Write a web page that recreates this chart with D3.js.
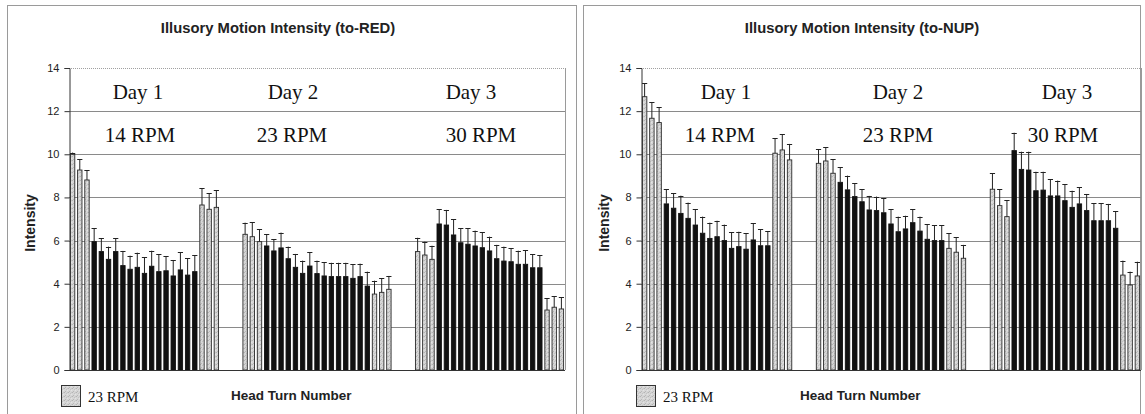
<!DOCTYPE html>
<html>
<head>
<meta charset="utf-8">
<script src="https://cdn.jsdelivr.net/npm/d3@7/dist/d3.min.js"></script>
<style>
  html, body { margin: 0; padding: 0; background: #fff; }
  svg { display: block; }
  .tick text { font-family: "Liberation Sans", Arial, sans-serif; font-size: 11px; fill: #222; }
</style>
</head>
<body>
<script>
// ---- data -------------------------------------------------------------
const days = ["Day 1", "Day 2", "Day 3"];
const speeds = ["14 RPM", "23 RPM", "30 RPM"];
const legendLabel = "23 RPM";
const yTicks = [0, 2, 4, 6, 8, 10, 12, 14];
// head turns per session: 3 baseline (23 RPM), 15 test, 3 baseline (23 RPM)
const baselineBefore = 3, testTurns = 15, baselineAfter = 3;

// to-RED: mean intensity per head turn, one row per day
const redValues = [
  [10.0, 9.27, 8.81, 5.95, 5.49, 5.13, 5.49, 4.84, 4.67, 4.76, 4.48, 4.81, 4.56, 4.60, 4.36, 4.64, 4.40, 4.56, 7.65, 7.45, 7.54],
  [6.29, 6.18, 5.95, 5.75, 5.52, 5.66, 5.16, 4.76, 4.48, 4.82, 4.47, 4.36, 4.33, 4.33, 4.33, 4.25, 4.33, 3.89, 3.52, 3.60, 3.74],
  [5.49, 5.33, 5.13, 6.77, 6.72, 6.26, 5.90, 5.83, 5.75, 5.67, 5.52, 5.16, 5.05, 5.02, 4.90, 4.90, 4.74, 4.74, 2.78, 2.91, 2.83]
];
const redErrors = [
  [0.08, 0.51, 0.46, 0.62, 0.61, 0.59, 0.61, 0.68, 0.63, 0.68, 0.74, 0.72, 0.80, 0.67, 0.74, 0.83, 0.78, 0.77, 0.77, 0.74, 0.80],
  [0.54, 0.67, 0.57, 0.54, 0.55, 0.71, 0.56, 0.62, 0.59, 0.65, 0.60, 0.64, 0.64, 0.64, 0.64, 0.66, 0.60, 0.67, 0.62, 0.65, 0.62],
  [0.64, 0.62, 0.63, 0.69, 0.70, 0.74, 0.67, 0.74, 0.71, 0.71, 0.66, 0.64, 0.67, 0.62, 0.63, 0.66, 0.62, 0.59, 0.54, 0.52, 0.54]
];

// to-NUP: mean intensity per head turn, one row per day
const nupValues = [
  [12.67, 11.67, 11.47, 7.70, 7.50, 7.26, 7.03, 6.72, 6.34, 6.10, 6.18, 6.00, 5.64, 5.72, 5.60, 6.03, 5.76, 5.76, 10.05, 10.20, 9.74],
  [9.58, 9.69, 9.12, 8.70, 8.35, 8.04, 7.80, 7.42, 7.39, 7.29, 6.77, 6.41, 6.54, 6.83, 6.44, 6.06, 6.00, 6.00, 5.64, 5.46, 5.18],
  [8.38, 7.62, 7.11, 10.17, 9.30, 9.27, 8.31, 8.34, 8.07, 8.07, 7.85, 7.54, 7.70, 7.39, 6.92, 6.92, 6.92, 6.57, 4.40, 3.94, 4.36]
];
const nupErrors = [
  [0.62, 0.74, 0.71, 0.68, 0.69, 0.82, 0.73, 0.73, 0.77, 0.73, 0.74, 0.74, 0.74, 0.69, 0.74, 0.77, 0.76, 0.68, 0.69, 0.74, 0.74],
  [0.65, 0.63, 0.65, 0.70, 0.66, 0.62, 0.59, 0.65, 0.65, 0.67, 0.69, 0.70, 0.61, 0.63, 0.67, 0.69, 0.72, 0.72, 0.70, 0.69, 0.62],
  [0.74, 0.77, 0.77, 0.83, 0.82, 0.85, 0.88, 0.85, 0.78, 0.71, 0.77, 0.77, 0.77, 0.77, 0.81, 0.81, 0.78, 0.80, 0.67, 0.62, 0.66]
];

// ---- layout -----------------------------------------------------------
const W = 1145, H = 414;
const svg = d3.select("body").append("svg").attr("width", W).attr("height", H);

// fine stippled light-grey fill used for the 23 RPM baseline turns
const defs = svg.append("defs");
const pat = defs.append("pattern")
  .attr("id", "stipple").attr("patternUnits", "userSpaceOnUse")
  .attr("width", 4).attr("height", 4);
pat.append("rect").attr("width", 4).attr("height", 4).attr("fill", "#d6d6d6");
[[0, 0, "#b4b4b4"], [2, 1, "#c2c2c2"], [1, 3, "#b8b8b8"], [3, 2, "#e4e4e4"], [3, 0, "#c8c8c8"]]
  .forEach(([px, py, c]) => pat.append("rect").attr("x", px).attr("y", py)
    .attr("width", 1).attr("height", 1).attr("fill", c));

const turnsPerDay = baselineBefore + testTurns + baselineAfter;
const gapSlots = 3;

// category keys: every head turn of every day, with empty slots between days
function buildCategories() {
  const keys = [];
  days.forEach((d, di) => {
    for (let t = 0; t < turnsPerDay; t++) keys.push(`d${di}-t${t}`);
    if (di < days.length - 1) for (let g = 0; g < gapSlots; g++) keys.push(`gap${di}-${g}`);
  });
  return keys;
}
const categories = buildCategories();

function isBaseline(t) {
  return t < baselineBefore || t >= baselineBefore + testTurns;
}

function drawPanel(cfg) {
  const g = svg.append("g");

  // chart frame
  g.append("rect")
    .attr("x", cfg.frame[0] + 0.5).attr("y", 5.5)
    .attr("width", cfg.frame[1] - cfg.frame[0]).attr("height", H + 10)
    .attr("fill", "#fff").attr("stroke", "#9a9a9a").attr("stroke-width", 1);

  const x = d3.scaleBand().domain(categories)
    .range([cfg.plot[0], cfg.plot[1]]).paddingInner(0.25).paddingOuter(0.125);
  const y = d3.scaleLinear().domain([0, 14]).range([370, 68]);

  // horizontal gridlines
  g.append("g").selectAll("line").data(yTicks.filter(v => v > 0))
    .join("line")
    .attr("x1", cfg.plot[0]).attr("x2", cfg.plot[1])
    .attr("y1", d => Math.round(y(d)) + 0.5).attr("y2", d => Math.round(y(d)) + 0.5)
    .attr("stroke", d => d === 14 ? "#a0a0a0" : "#8a8a8a")
    .attr("stroke-dasharray", d => d === 14 ? "1,1" : null)
    .attr("stroke-width", 1);

  // plot-area right edge
  g.append("line")
    .attr("x1", cfg.plot[1] + 0.5).attr("x2", cfg.plot[1] + 0.5)
    .attr("y1", y(14)).attr("y2", y(0))
    .attr("stroke", "#9a9a9a");

  // bars and error bars
  const rows = [];
  days.forEach((d, di) => {
    for (let t = 0; t < turnsPerDay; t++) {
      rows.push({ key: `d${di}-t${t}`, v: cfg.values[di][t], e: cfg.errors[di][t], base: isBaseline(t) });
    }
  });

  const bw = x.bandwidth();
  g.append("g").selectAll("rect").data(rows).join("rect")
    .attr("x", d => x(d.key) + 0.5)
    .attr("y", d => y(d.v))
    .attr("width", bw - 1)
    .attr("height", d => y(0) - y(d.v))
    .attr("fill", d => d.base ? "url(#stipple)" : "#111")
    .attr("stroke", d => d.base ? "#2a2a2a" : "#111")
    .attr("stroke-width", 0.9);

  const eb = g.append("g").attr("stroke", "#222").attr("stroke-width", 1);
  eb.selectAll("line.stem").data(rows).join("line").attr("class", "stem")
    .attr("x1", d => x(d.key) + bw / 2).attr("x2", d => x(d.key) + bw / 2)
    .attr("y1", d => y(d.v)).attr("y2", d => y(d.v + d.e));
  eb.selectAll("line.cap").data(rows).join("line").attr("class", "cap")
    .attr("x1", d => x(d.key) + bw / 2 - 2.6).attr("x2", d => x(d.key) + bw / 2 + 2.6)
    .attr("y1", d => Math.round(y(d.v + d.e)) + 0.5).attr("y2", d => Math.round(y(d.v + d.e)) + 0.5);

  // axes
  const yAxis = d3.axisLeft(y).tickValues(yTicks).tickSize(5).tickPadding(5).tickFormat(d3.format("d"));
  const ya = g.append("g").attr("transform", `translate(${cfg.plot[0] + 0.5},0)`).call(yAxis);
  ya.select(".domain").attr("stroke", "#333");
  ya.selectAll(".tick line").attr("stroke", "#333");

  g.append("line")
    .attr("x1", cfg.plot[0]).attr("x2", cfg.plot[1])
    .attr("y1", y(0) + 0.5).attr("y2", y(0) + 0.5)
    .attr("stroke", "#333").attr("stroke-width", 1);

  // titles
  g.append("text").attr("x", cfg.titleX).attr("y", 33)
    .attr("text-anchor", "middle")
    .attr("font-family", "Liberation Sans, Arial, sans-serif")
    .attr("font-weight", "bold").attr("font-size", "14.8px").attr("fill", "#222")
    .text(cfg.title);

  g.append("text")
    .attr("transform", `translate(${cfg.yTitleX},223) rotate(-90)`)
    .attr("text-anchor", "middle")
    .attr("font-family", "Liberation Sans, Arial, sans-serif")
    .attr("font-weight", "bold").attr("font-size", "14px").attr("fill", "#222")
    .text("Intensity");

  g.append("text").attr("x", cfg.xTitleX).attr("y", 400)
    .attr("font-family", "Liberation Sans, Arial, sans-serif")
    .attr("font-weight", "bold").attr("font-size", "13.5px").attr("fill", "#222")
    .text("Head Turn Number");

  // day / speed annotations
  const serif = "Liberation Serif, Times New Roman, serif";
  days.forEach((d, i) => {
    g.append("text").attr("x", cfg.dayX[i]).attr("y", 99)
      .attr("text-anchor", "middle").attr("font-family", serif)
      .attr("font-size", "21px").attr("fill", "#111").text(d);
    g.append("text").attr("x", cfg.speedX[i]).attr("y", 142)
      .attr("text-anchor", "middle").attr("font-family", serif)
      .attr("font-size", "21px").attr("fill", "#111").text(speeds[i]);
  });

  // legend
  g.append("rect").attr("x", cfg.legendX + 0.5).attr("y", 385.5)
    .attr("width", 19).attr("height", 21)
    .attr("fill", "url(#stipple)").attr("stroke", "#333");
  g.append("text").attr("x", cfg.legendX + 27).attr("y", 402)
    .attr("font-family", serif).attr("font-size", "15px").attr("fill", "#111")
    .text(legendLabel);
}

drawPanel({
  title: "Illusory Motion Intensity (to-RED)",
  values: redValues, errors: redErrors,
  frame: [7, 576], plot: [69, 565],
  titleX: 278, yTitleX: 35, xTitleX: 231,
  dayX: [138, 293, 471], speedX: [140, 292, 481],
  legendX: 61
});

drawPanel({
  title: "Illusory Motion Intensity (to-NUP)",
  values: nupValues, errors: nupErrors,
  frame: [583, 1140], plot: [641, 1141],
  titleX: 862, yTitleX: 609, xTitleX: 800,
  dayX: [726, 898, 1067], speedX: [720, 898, 1063],
  legendX: 636
});
</script>
</body>
</html>
